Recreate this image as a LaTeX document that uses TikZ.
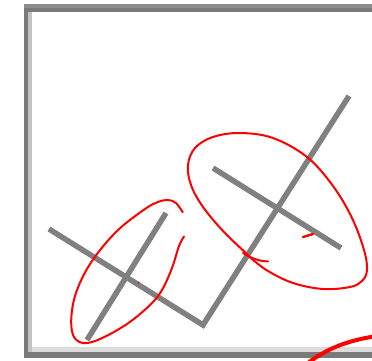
\documentclass[tikz,border=0pt]{standalone}
\definecolor{lineGray}{HTML}{808080}
\definecolor{frameDark}{HTML}{7A7A7A}
\definecolor{frameTop}{HTML}{8C8C8C}
\definecolor{frameLightA}{HTML}{C4C4C4}
\definecolor{frameLightB}{HTML}{DCDCDC}
\definecolor{inkRed}{HTML}{FF0000}
\begin{document}
\begin{tikzpicture}[x=1pt,y=-1pt,
  graystroke/.style={draw=lineGray, line width=5.5pt},
  redink/.style={draw=inkRed, line width=2pt, line cap=round, line join=round},
  redthick/.style={draw=inkRed, line width=4pt, line cap=round}]
\useasboundingbox (0,0) rectangle (372,361);
\fill[white] (0,0) rectangle (372,361);
% frame
\draw[frameLightB, line width=5pt] (32,349.5) -- (380,349.5);
\draw[frameLightA, line width=3.5pt] (30.2,12) -- (30.2,352);
\fill[frameTop] (24,4) rectangle (380,8);
\draw[frameDark, line width=4.5pt] (380,10) -- (26.2,10) -- (26.2,355.2);
\draw[frameDark, line width=6pt] (24,355.2) -- (380,355.2);
% gray lines
\coordinate (a1) at (49,229);
\coordinate (a2) at (203,325);
\coordinate (a3) at (349,96);
\coordinate (b1) at (87,340);
\coordinate (b2) at (166,213);
\coordinate (c1) at (213,168);
\coordinate (c2) at (341,248);
\draw[graystroke] (a1) -- (a2) -- (a3);
\draw[graystroke] (b1) -- (b2);
\draw[graystroke] (c1) -- (c2);
% small red loop
\draw[redink] plot[smooth, tension=0.6] coordinates {
 (182.7,212.3) (176,203) (168,200) (158,202) (145,209) (117,231) (92,261)
 (77,290) (71.5,315) (73,335) (83,343) (100,339) (127,324) (150,305)
 (162,290) (172,268) (179,246) (184,236.5)};
\fill[inkRed] (138.5,282.5) circle (1pt);
% big red loop
\draw[redink] plot[smooth, tension=0.6] coordinates {
 (247,254) (224,232) (203,207) (191,185) (188,165) (195,148) (213,137)
 (240,133) (273,138) (307,157) (333,186) (352,218) (364,250) (367,270)
 (362,281) (350,287) (323,289) (293,283) (268,271) (252,259) (243,250)};
\draw[redink] (243,253) .. controls (252,259) and (260,261) .. (268,261.5);
\draw[redink, line width=2.4pt] (303,237) -- (313,234);
% bottom right stroke
\draw[redthick] (308,363) .. controls (325,350) and (345,341) .. (374,336.5);
\end{tikzpicture}
\end{document}
